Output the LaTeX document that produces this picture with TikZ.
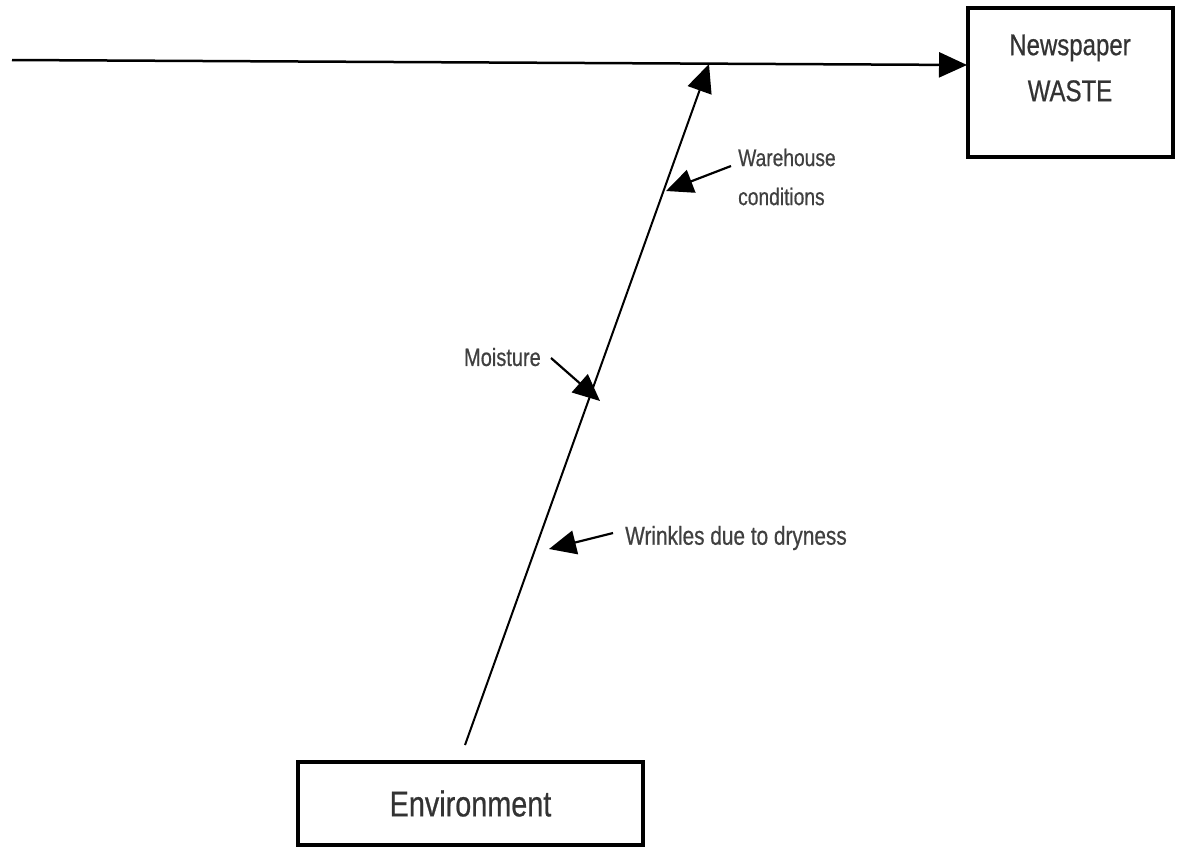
\documentclass[tikz,border=0pt]{standalone}
\usepackage{fontspec}
\setmainfont{Liberation Sans}[FakeStretch=0.8,FakeBold=0.6]
\usetikzlibrary{arrows.meta}
\begin{document}
\begin{tikzpicture}[x=1pt,y=-1pt,
  box/.style={draw, line width=3.5pt, inner sep=0pt},
  boxtext/.style={inner sep=0pt, align=center, text=black!80},
  lbl/.style={inner sep=0pt, text=black!75, font=\fontsize{25}{36}\selectfont},
  flow/.style={line width=2.5pt, -{Triangle[length=28pt,width=25pt]}},
  cause/.style={line width=2.2pt, -{Triangle[length=27pt,width=24pt]}}]
\useasboundingbox (0,0) rectangle (1177,846);

% effect and category boxes
\node[box, minimum width=205pt, minimum height=149pt] (news) at (1070.5,82.5) {};
\node[boxtext, font=\fontsize{30}{46}\selectfont] (newstext) at (1070,68) {Newspaper\\WASTE};
\node[box, minimum width=345pt, minimum height=83pt] (env) at (470.5,803.5) {};
\node[boxtext, font=\fontsize{36}{40}\selectfont] (envtext) at (env.center) {Environment};

% backbone and spine
\coordinate (head) at (12,60);
\coordinate (effect) at (967,65);
\coordinate (spinebot) at (465,745);
\coordinate (spinetop) at (709,64);
\draw[flow] (head) -- (effect);
\draw[flow, line width=2pt] (spinebot) -- (spinetop);

% causes
\node[lbl, anchor=west, align=left, font=\fontsize{24}{39}\selectfont] (wh) at (738,177) {Warehouse\\conditions};
\node[lbl, anchor=east] (moist) at (541,357) {Moisture};
\node[lbl, anchor=west, font=\fontsize{26}{36}\selectfont] (wr) at (625,538) {Wrinkles due to dryness};

\coordinate (whs) at (731,166);
\coordinate (wht) at (666,191);
\coordinate (ms) at (551,358);
\coordinate (mt) at (600,401);
\coordinate (wrs) at (613,533);
\coordinate (wrt) at (549,549);
\draw[cause] (whs) -- (wht);
\draw[cause] (ms) -- (mt);
\draw[cause] (wrs) -- (wrt);
\end{tikzpicture}
\end{document}
